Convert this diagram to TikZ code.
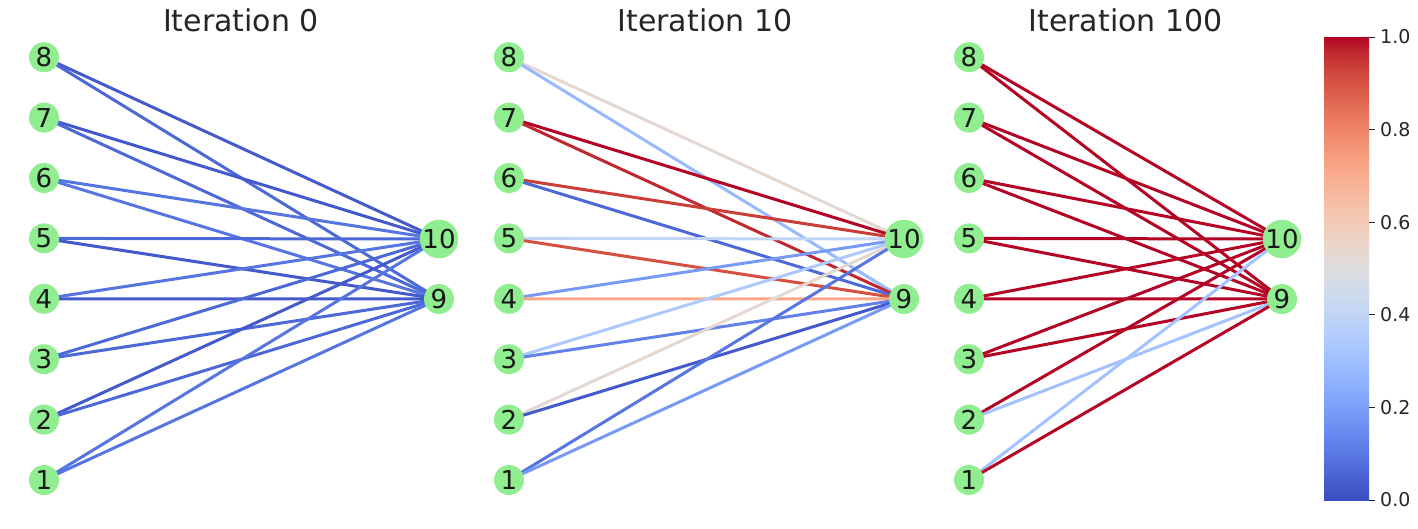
\documentclass[tikz,border=0pt]{standalone}
\usepackage{fontspec}
\setmainfont{DejaVu Sans}
\definecolor{cw0}{RGB}{59,76,192}
\definecolor{cw1}{RGB}{68,90,204}
\definecolor{cw2}{RGB}{77,104,215}
\definecolor{cw3}{RGB}{87,117,225}
\definecolor{cw4}{RGB}{98,130,234}
\definecolor{cw5}{RGB}{108,142,241}
\definecolor{cw6}{RGB}{119,154,247}
\definecolor{cw7}{RGB}{130,165,251}
\definecolor{cw8}{RGB}{141,176,254}
\definecolor{cw9}{RGB}{152,185,255}
\definecolor{cw10}{RGB}{163,194,255}
\definecolor{cw11}{RGB}{174,201,253}
\definecolor{cw12}{RGB}{184,208,249}
\definecolor{cw13}{RGB}{194,213,244}
\definecolor{cw14}{RGB}{204,217,238}
\definecolor{cw15}{RGB}{213,219,230}
\definecolor{cw16}{RGB}{221,221,221}
\definecolor{cw17}{RGB}{229,216,209}
\definecolor{cw18}{RGB}{236,211,197}
\definecolor{cw19}{RGB}{241,204,185}
\definecolor{cw20}{RGB}{245,196,173}
\definecolor{cw21}{RGB}{247,187,160}
\definecolor{cw22}{RGB}{247,177,148}
\definecolor{cw23}{RGB}{247,166,135}
\definecolor{cw24}{RGB}{244,154,123}
\definecolor{cw25}{RGB}{241,141,111}
\definecolor{cw26}{RGB}{236,127,99}
\definecolor{cw27}{RGB}{229,112,88}
\definecolor{cw28}{RGB}{222,96,77}
\definecolor{cw29}{RGB}{213,80,66}
\definecolor{cw30}{RGB}{203,62,56}
\definecolor{cw31}{RGB}{192,40,47}
\definecolor{cw32}{RGB}{180,4,38}
\definecolor{nodegreen}{RGB}{144,238,144}
\definecolor{txtgray}{RGB}{38,38,38}
\pgfdeclareverticalshading{coolwarm}{100bp}{color(0bp)=(cw0); color(25bp)=(cw0); color(26.5625bp)=(cw1); color(28.125bp)=(cw2); color(29.6875bp)=(cw3); color(31.25bp)=(cw4); color(32.8125bp)=(cw5); color(34.375bp)=(cw6); color(35.9375bp)=(cw7); color(37.5bp)=(cw8); color(39.0625bp)=(cw9); color(40.625bp)=(cw10); color(42.1875bp)=(cw11); color(43.75bp)=(cw12); color(45.3125bp)=(cw13); color(46.875bp)=(cw14); color(48.4375bp)=(cw15); color(50bp)=(cw16); color(51.5625bp)=(cw17); color(53.125bp)=(cw18); color(54.6875bp)=(cw19); color(56.25bp)=(cw20); color(57.8125bp)=(cw21); color(59.375bp)=(cw22); color(60.9375bp)=(cw23); color(62.5bp)=(cw24); color(64.0625bp)=(cw25); color(65.625bp)=(cw26); color(67.1875bp)=(cw27); color(68.75bp)=(cw28); color(70.3125bp)=(cw29); color(71.875bp)=(cw30); color(73.4375bp)=(cw31); color(75bp)=(cw32); color(100bp)=(cw32)}
\pgfdeclarelayer{bg}
\pgfsetlayers{bg,main}
\tikzset{
  gnode/.style={circle, fill=nodegreen, draw=none, inner sep=0pt, minimum size=30pt, text=black!90, font=\fontsize{26}{26}\selectfont},
  edge/.style={line width=3pt},
  ttl/.style={font=\fontsize{30}{30}\selectfont, text=txtgray, anchor=base, inner sep=0pt},
  ticklbl/.style={font=\fontsize{19}{19}\selectfont, text=txtgray, anchor=west, inner sep=0pt},
  tickmark/.style={line width=1pt, draw=txtgray}
}
\begin{document}
\begin{tikzpicture}[x=1pt, y=-1pt]
\useasboundingbox (0,0) rectangle (1418,528);
% titles
\node[ttl] (t1) at (241,31) {Iteration 0};
\node[ttl] (t2) at (705,31) {Iteration 10};
\node[ttl] (t3) at (1125.5,31) {Iteration 100};
% nodes
\foreach \p/\lx/\rx in {a/44/439, b/509/904, c/969/1282} {
  \foreach \k in {1,...,8} {
    \node[gnode] (\p\k) at (\lx, {480-60.4*(\k-1)}) {\k};
  }
  \node[gnode] (\p10) at (\rx,239) {10};
  \node[gnode] (\p9) at (\rx,299) {9};
}
% edges
\begin{pgfonlayer}{bg}
\foreach \s/\t/\c in {a8/a10/1, a8/a9/2, a7/a10/1, a7/a9/2, a6/a10/3, a6/a9/3, a5/a10/2, a5/a9/1, a4/a10/3, a4/a9/1, a3/a10/2, a3/a9/2, a2/a10/1, a2/a9/2, a1/a10/3, a1/a9/3,
  b8/b10/17, b8/b9/9, b7/b10/32, b7/b9/31, b6/b10/30, b6/b9/2, b5/b10/13, b5/b9/29, b4/b10/6, b4/b9/23, b3/b10/11, b3/b9/4, b2/b10/17, b2/b9/1, b1/b10/3, b1/b9/6,
  c8/c10/32, c8/c9/32, c7/c10/32, c7/c9/32, c6/c10/32, c6/c9/32, c5/c10/32, c5/c9/32, c4/c10/32, c4/c9/32, c3/c10/32, c3/c9/32, c2/c10/32, c2/c9/10, c1/c10/10, c1/c9/32} {
  \draw[edge, draw=cw\c] (\s.center) -- (\t.center);
}
\end{pgfonlayer}
% colorbar
\shade[shading=coolwarm] (1324,37) rectangle (1369,500);
\foreach \v/\lab in {0/0.0, 1/0.2, 2/0.4, 3/0.6, 4/0.8, 5/1.0} {
  \coordinate (tk\v) at (1369, {500-92.6*\v});
  \coordinate (te\v) at (1375, {500-92.6*\v});
  \draw[tickmark] (tk\v) -- (te\v);
  \node[ticklbl] (lb\v) at (1380, {500-92.6*\v}) {\lab};
}
\end{tikzpicture}
\end{document}
